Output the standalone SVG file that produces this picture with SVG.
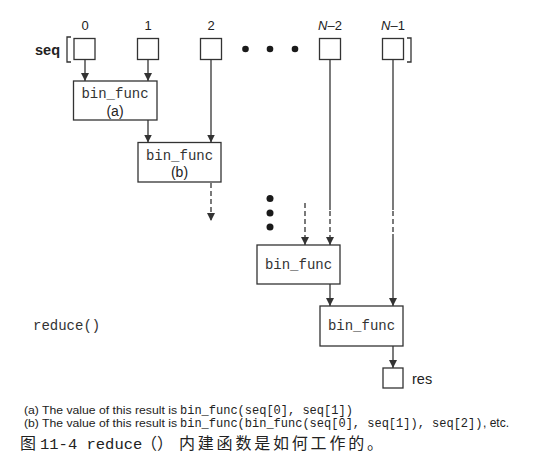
<svg xmlns="http://www.w3.org/2000/svg" width="534" height="470" viewBox="0 0 534 470">
<style>
.box{fill:#fff;stroke:#333;stroke-width:1.3}
.ln{stroke:#333;stroke-width:1.3;fill:none}
.dash{stroke-dasharray:5 3}
.mono{font-family:"Liberation Mono",monospace;font-size:14px;fill:#333}
.sans{font-family:"Liberation Sans",Arial,sans-serif;fill:#222}
.dot{fill:#1a1a1a}
</style>
<defs>
<marker id="ah" viewBox="0 0 8 8" refX="8" refY="4" markerWidth="8" markerHeight="8" markerUnits="userSpaceOnUse" orient="auto">
<path d="M0,0 L8,4 L0,8 z" fill="#333"/>
</marker>
</defs>
<rect width="534" height="470" fill="#fff"/>

<g id="seq-label">
<text class="sans" x="35" y="55" font-size="14.5" font-weight="bold">seq</text>
<path class="ln" d="M71,37 L67,37 L67,62 L71,62" stroke-width="2.5"/>
<path class="ln" d="M407,38 L411,38 L411,62 L407,62" stroke-width="2.5"/>
</g>

<g id="seq0"><rect class="box" x="74" y="38.5" width="21" height="21"/><text class="sans" x="85" y="30" font-size="13" text-anchor="middle">0</text></g>
<g id="seq1"><rect class="box" x="137.5" y="38.5" width="21" height="21"/><text class="sans" x="148" y="30" font-size="13" text-anchor="middle">1</text></g>
<g id="seq2"><rect class="box" x="200.5" y="38.5" width="21" height="21"/><text class="sans" x="211" y="30" font-size="13" text-anchor="middle">2</text></g>
<g id="hdots"><circle class="dot" cx="245.5" cy="49" r="3.3"/><circle class="dot" cx="270" cy="49" r="3.3"/><circle class="dot" cx="295" cy="49" r="3.3"/></g>
<g id="seqN2"><rect class="box" x="319.5" y="38.5" width="21" height="21"/><text class="sans" x="330" y="30" font-size="13" text-anchor="middle"><tspan font-style="italic">N</tspan>–2</text></g>
<g id="seqN1"><rect class="box" x="382.5" y="38.5" width="21" height="21"/><text class="sans" x="393" y="30" font-size="13" text-anchor="middle"><tspan font-style="italic">N</tspan>–1</text></g>

<g id="bf-a"><rect class="box" x="73.5" y="81" width="83.5" height="39"/><text class="mono" x="115" y="98" text-anchor="middle">bin_func</text><text class="sans" x="115" y="115.5" font-size="14" text-anchor="middle">(a)</text></g>
<g id="bf-b"><rect class="box" x="138" y="142.5" width="83" height="39.5"/><text class="mono" x="179.5" y="160" text-anchor="middle">bin_func</text><text class="sans" x="179.5" y="176.5" font-size="14" text-anchor="middle">(b)</text></g>
<g id="vdots"><circle class="dot" cx="270" cy="198.5" r="3.5"/><circle class="dot" cx="270" cy="213" r="3.5"/><circle class="dot" cx="270" cy="227" r="3.5"/></g>
<g id="bf-3"><rect class="box" x="257" y="245" width="83" height="39"/><text class="mono" x="298.5" y="269" text-anchor="middle">bin_func</text></g>
<g id="bf-4"><rect class="box" x="320" y="306" width="83" height="40"/><text class="mono" x="361.5" y="330" text-anchor="middle">bin_func</text></g>
<g id="res"><rect class="box" x="383" y="368" width="20" height="20"/><text class="sans" x="412" y="384" font-size="14.5">res</text></g>

<g id="connectors">
<line class="ln" x1="85" y1="59.5" x2="85" y2="81" marker-end="url(#ah)"/>
<line class="ln" x1="148" y1="59.5" x2="148" y2="81" marker-end="url(#ah)"/>
<line class="ln" x1="148" y1="120" x2="148" y2="142.5" marker-end="url(#ah)"/>
<line class="ln" x1="211" y1="59.5" x2="211" y2="142.5" marker-end="url(#ah)"/>
<line class="ln dash" x1="211" y1="183" x2="211" y2="221" marker-end="url(#ah)"/>
<line class="ln dash" x1="305" y1="203" x2="305" y2="245" marker-end="url(#ah)"/>
<line class="ln" x1="330" y1="59.5" x2="330" y2="210"/>
<line class="ln dash" x1="330" y1="211" x2="330" y2="245" marker-end="url(#ah)"/>
<line class="ln" x1="393" y1="59.5" x2="393" y2="210"/>
<line class="ln dash" x1="393" y1="211" x2="393" y2="233"/>
<line class="ln" x1="393" y1="234" x2="393" y2="306" marker-end="url(#ah)"/>
<line class="ln" x1="330" y1="284" x2="330" y2="306" marker-end="url(#ah)"/>
<line class="ln" x1="393" y1="346" x2="393" y2="368" marker-end="url(#ah)"/>
</g>

<text class="mono" x="33" y="330">reduce()</text>

<g id="notes">
<text class="sans" x="24" y="414" font-size="11.5" textLength="153" lengthAdjust="spacingAndGlyphs">(a) The value of this result is</text>
<text x="180" y="414" font-family="Liberation Mono, monospace" font-size="12" fill="#222">bin_func(seq[0], seq[1])</text>
<text class="sans" x="24" y="427" font-size="11.5" textLength="153" lengthAdjust="spacingAndGlyphs">(b) The value of this result is</text>
<text x="180" y="427" font-family="Liberation Mono, monospace" font-size="12" fill="#222">bin_func(bin_func(seq[0], seq[1]), seq[2])</text>
<text class="sans" x="483" y="427" font-size="12">, etc.</text>
</g>

<text y="449" font-size="16" fill="#222" font-family="'Noto Sans CJK SC',sans-serif"><tspan x="20">图</tspan><tspan x="40" font-family="'Liberation Mono',monospace" font-size="15.5">11-4 reduce</tspan><tspan x="141">（）</tspan><tspan x="179" letter-spacing="2.8">内建函数是如何工作的。</tspan></text>
</svg>
